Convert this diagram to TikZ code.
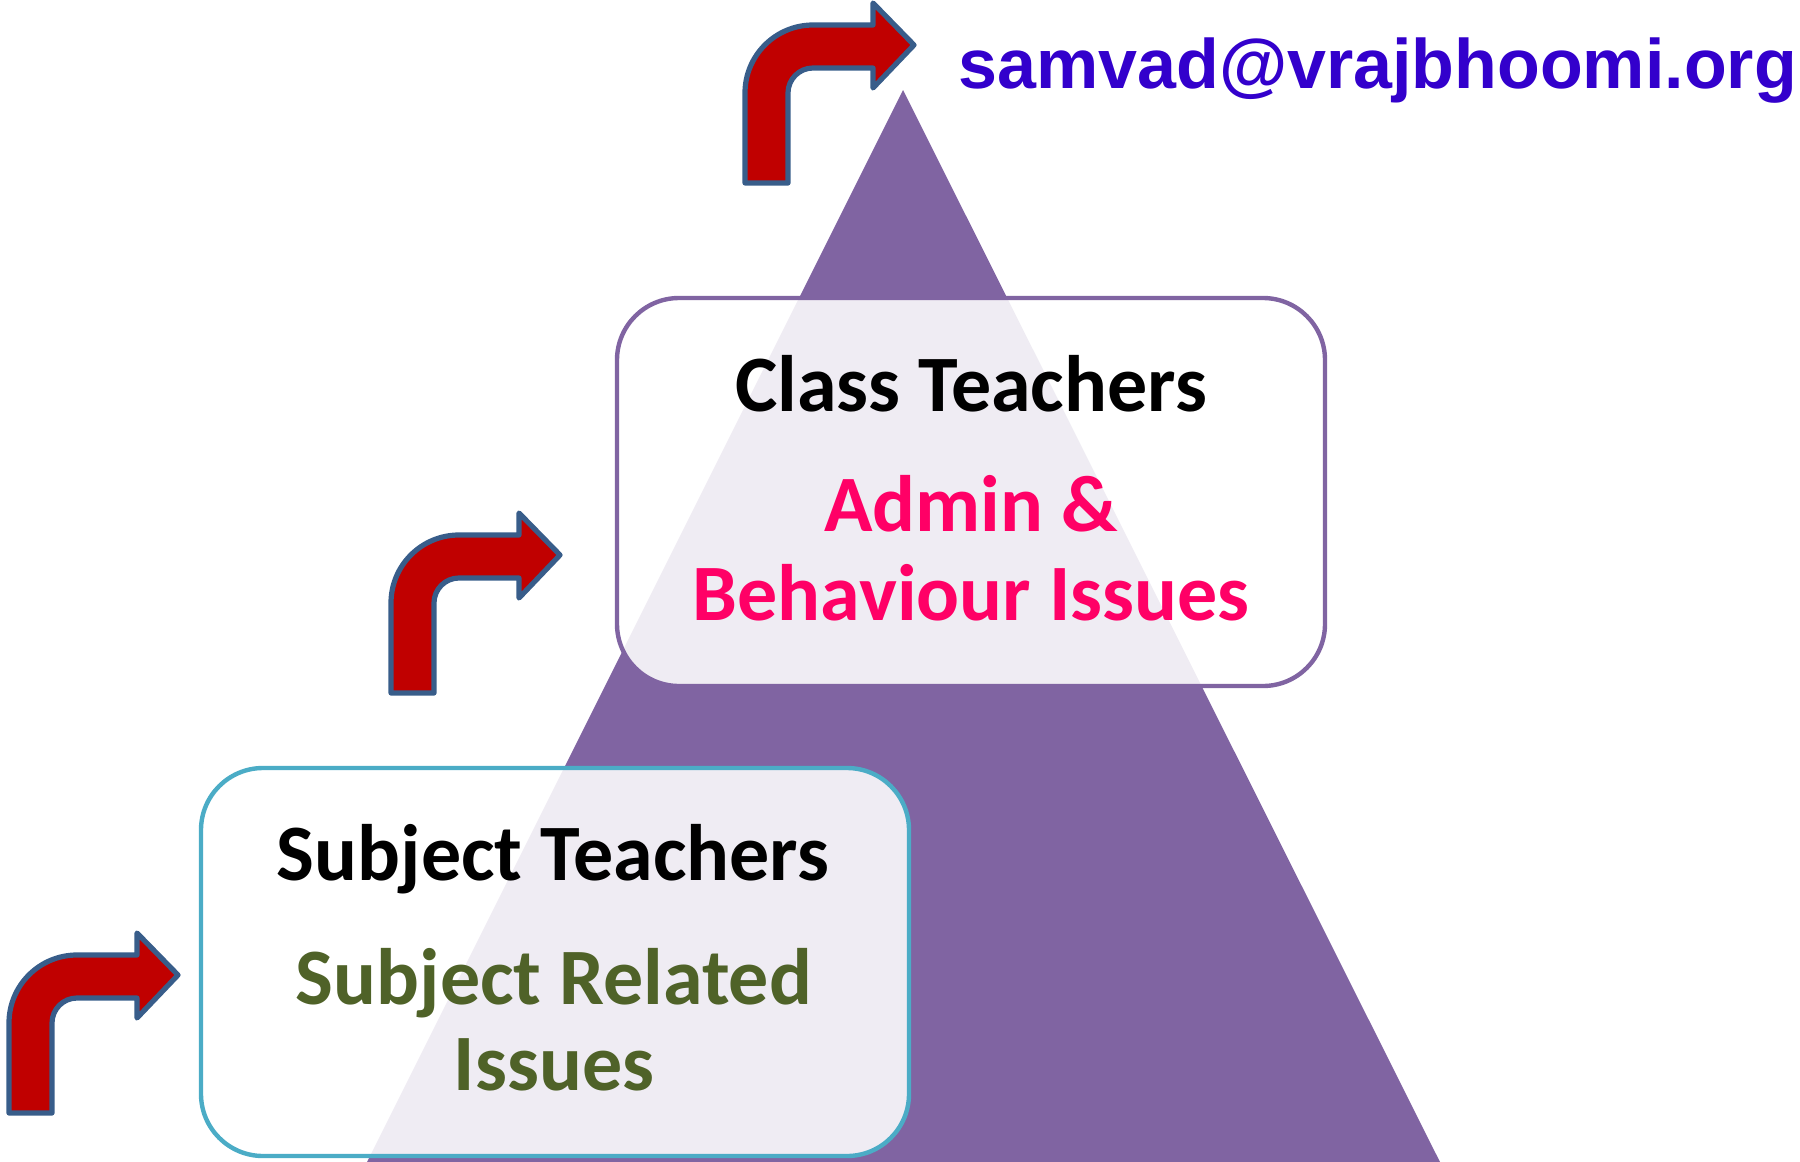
\documentclass[tikz,border=0pt]{standalone}
\usepackage{fontspec}
\setmainfont{Carlito}
\newfontfamily\mailfont{Liberation Sans}
\definecolor{pyramid}{RGB}{128,100,162}
\definecolor{arrowred}{RGB}{192,0,0}
\definecolor{arrowedge}{RGB}{56,93,138}
\definecolor{subjedge}{RGB}{75,172,198}
\definecolor{adminpink}{RGB}{255,0,102}
\definecolor{subjgreen}{RGB}{79,98,40}
\definecolor{mailblue}{RGB}{51,0,204}
\tikzset{levelbox/.style={draw, line width=2.2pt, rounded corners=31pt, fill=white, fill opacity=0.88, text opacity=1, minimum width=354pt, minimum height=194pt, inner sep=0pt}}
\tikzset{level/.style={anchor=base, inner sep=0pt, font=\bfseries\fontsize{40}{48}\selectfont}}
\tikzset{bentarrow/.pic={
	\draw[line width=2.6pt, draw=arrowedge, fill=arrowred, line join=round]
		(0,0) -- (0,-90) arc[start angle=180, end angle=270, radius=68]
		-- (128,-158) -- (128,-180) -- (169,-138) -- (128,-95) -- (128,-115)
		-- (68,-115) arc[start angle=270, end angle=180, radius=25] -- (43,0) -- cycle;
}}

\begin{document}
\begin{tikzpicture}[x=0.5pt, y=-0.5pt]
	\useasboundingbox (0,0) rectangle (1800,1162);
	\fill[pyramid] (903,90) -- (1440,1162) -- (367,1162) -- cycle;
	% arrows
	\pic at (745,183) {bentarrow};
	\pic at (391,693) {bentarrow};
	\pic at (9,1113) {bentarrow};
	\node[anchor=base west, inner sep=0pt, text=mailblue, font=\mailfont\bfseries\fontsize{35}{42}\selectfont] (mail) at (958,88) {samvad@vrajbhoomi.org};
	% upper level
	\node[levelbox, draw=pyramid] (classbox) at (971,492) {};
	\node[level] (classtitle) at (971,411) {Class Teachers};
	\node[level, text=adminpink] (admin) at (971,531) {Admin \&};
	\node[level, text=adminpink] (behave) at (971,620) {Behaviour Issues};
	% lower level
	\node[levelbox, draw=subjedge] (subjbox) at (555,962) {};
	\node[level] (subjtitle) at (553,880) {Subject Teachers};
	\node[level, text=subjgreen] (related) at (554,1004) {Subject Related};
	\node[level, text=subjgreen] (issues) at (554,1090) {Issues};
\end{tikzpicture}
\end{document}
